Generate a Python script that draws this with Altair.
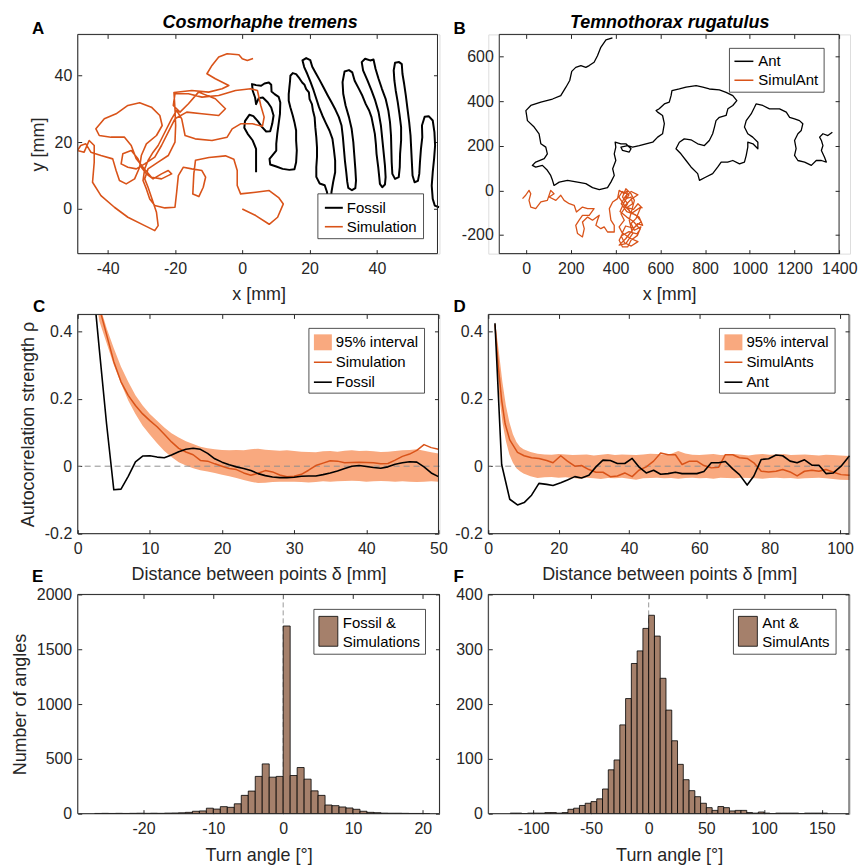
import altair as alt
import pandas as pd

FONT = "Liberation Sans"
AX = "#262626"
ORANGE = "#D95319"
BAND = "#F9A97F"
BROWN = "#A5806B"

# ---------------- Panel A: Cosmorhaphe tremens trajectories (mm) ----------------
fossil_xy = [
    (4.1, 11.0), (4.1, 14.5), (4.1, 18.0), (3.1, 20.5), (1.6, 22.5), (0.6, 24.3), (0.8, 26.3), (2.1, 28.2),
    (3.3, 27.8), (4.6, 26.3), (5.9, 24.5), (7.1, 23.2), (8.3, 23.3), (8.9, 25.5), (9.3, 28.0), (8.6, 30.4),
    (7.6, 31.9), (6.1, 33.4), (4.9, 33.2), (4.1, 31.4), (3.8, 33.4), (3.1, 35.4), (2.9, 37.4), (4.1, 37.1),
    (5.6, 36.9), (6.6, 37.6), (7.9, 37.9), (8.6, 37.2), (8.7, 35.2), (9.6, 34.4), (10.8, 33.6), (11.3, 31.9),
    (11.2, 28.5), (10.8, 25.5), (10.4, 22.5), (10.1, 19.5), (10.1, 17.5), (8.9, 16.0), (8.1, 15.0), (8.3, 13.3),
    (10.1, 12.7), (12.0, 12.0), (14.0, 11.7), (15.5, 11.9), (16.0, 14.0),
    (16.2, 17.5), (16.0, 20.5), (16.0, 23.5), (15.5, 26.0), (15.0, 28.0), (14.3, 30.4), (13.8, 32.4),
    (13.8, 34.4), (14.0, 36.4), (14.2, 38.4), (14.3, 39.9), (15.0, 40.7), (16.0, 40.4),
    (17.0, 39.1), (17.8, 37.9), (18.5, 37.2), (19.0, 35.9), (19.8, 34.9), (20.0, 32.9), (20.7, 31.4),
    (21.0, 29.5), (21.5, 27.5), (21.7, 24.5), (22.0, 21.5), (22.2, 18.5), (22.2, 15.5), (22.0, 12.5),
    (22.0, 9.6), (23.0, 7.6), (24.5, 7.1), (25.2, 5.0), (25.3, 2.0), (25.8, 0.5), (26.4, 2.0), (26.5, 5.0),
    (27.0, 8.0), (27.6, 11.0), (27.6, 14.5), (27.2, 18.0), (26.8, 21.0), (25.9, 23.5), (24.8, 25.8),
    (23.8, 28.0), (22.8, 30.5), (22.0, 33.0), (21.2, 35.5), (20.3, 38.0), (19.3, 40.5), (18.4, 42.5),
    (17.9, 44.5), (19.0, 45.2), (20.2, 44.6),
    (20.8, 42.6), (21.9, 40.6), (23.0, 38.6), (24.2, 36.3), (25.4, 34.0), (26.6, 31.8), (27.7, 29.7),
    (28.7, 27.5), (29.5, 25.0), (29.9, 21.5), (30.2, 18.0), (30.5, 14.5), (30.9, 11.0), (31.2, 8.1),
    (31.5, 6.3), (32.6, 5.6), (33.6, 6.2),
    (33.8, 8.5), (33.6, 12.0), (33.3, 16.0), (33.0, 20.0), (32.5, 24.0), (31.7, 27.5), (30.7, 31.0),
    (30.0, 34.5), (29.8, 38.0), (30.4, 41.2), (31.7, 41.6), (32.7, 40.9),
    (33.4, 38.4), (34.7, 35.9), (35.7, 33.9), (36.7, 31.4), (37.7, 29.5), (38.4, 27.5), (38.9, 25.0),
    (39.4, 22.5), (39.7, 19.5), (39.9, 16.5), (40.4, 12.5), (40.7, 9.6), (40.9, 7.5), (41.6, 6.5), (42.4, 7.3),
    (42.6, 9.5), (42.4, 13.0), (42.0, 17.0), (41.6, 21.0), (41.2, 25.0), (40.5, 29.0), (39.5, 32.5),
    (38.4, 35.5), (37.2, 38.5), (35.9, 41.5), (35.5, 44.0), (36.5, 45.0), (38.0, 44.5), (39.0, 44.8),
    (39.6, 42.0), (40.5, 39.0), (41.5, 36.0), (42.6, 33.0), (43.4, 29.5), (43.9, 26.0), (44.2, 22.0),
    (44.3, 18.0), (44.4, 14.0), (44.6, 10.5), (45.4, 9.0), (46.5, 9.5),
    (46.8, 12.5), (46.9, 16.5), (47.2, 20.5), (47.2, 24.5), (46.7, 28.5), (46.2, 32.0), (45.6, 35.5),
    (45.2, 38.5), (45.0, 41.5), (45.4, 43.8), (46.6, 44.0), (47.4, 43.4),
    (47.6, 40.5), (48.1, 37.5), (48.6, 34.0), (49.1, 30.0), (49.6, 26.0), (50.0, 22.0), (50.2, 18.0),
    (50.4, 14.0), (50.6, 10.0), (51.2, 8.0), (52.2, 8.4),
    (52.6, 10.5), (52.8, 14.0), (53.1, 18.0), (53.5, 21.5), (53.4, 25.0), (54.2, 27.6), (55.4, 27.8),
    (56.6, 26.5), (57.1, 23.0), (57.3, 19.0), (57.0, 15.0), (56.6, 11.0), (56.3, 7.0), (56.6, 3.0),
    (57.2, 1.0), (58.5, 0.5),
]
simulation_xy = [
    (0.0, 0.0), (4.0, -2.0), (8.0, -4.6), (10.5, -2.5), (12.2, 1.5), (10.8, 3.4), (8.0, 5.5), (4.0, 5.0),
    (-0.5, 4.5), (-1.5, 7.0), (-1.5, 11.5), (-2.5, 14.9), (-5.0, 15.9), (-9.9, 15.4), (-13.9, 14.6),
    (-14.4, 10.5), (-14.7, 4.5), (-12.9, 3.7), (-11.6, 6.5), (-10.9, 9.5), (-12.0, 11.5), (-15.0, 12.0),
    (-17.5, 12.5), (-19.0, 10.0), (-19.5, 5.0), (-20.0, 0.5), (-23.0, 0.3), (-26.0, 1.0), (-27.5, 3.0),
    (-28.5, 6.0), (-29.5, 8.5), (-29.0, 12.0), (-28.0, 14.5), (-26.5, 17.0), (-25.0, 19.0), (-23.5, 22.0),
    (-21.0, 27.0), (-19.5, 29.5), (-18.0, 27.0), (-17.0, 22.0), (-14.0, 21.0), (-9.0, 20.5), (-4.5, 21.5),
    (-3.0, 24.0), (-0.5, 25.5), (3.0, 25.5), (6.0, 24.8), (6.5, 27.5), (5.5, 31.0), (4.5, 35.5), (2.5, 36.0),
    (-2.0, 35.5), (-7.0, 34.0), (-12.0, 33.5), (-16.0, 34.5), (-20.0, 34.5), (-20.5, 31.0), (-18.5, 29.0),
    (-16.0, 31.5), (-13.0, 35.0), (-8.0, 33.0), (-5.0, 30.0), (-7.0, 28.0), (-12.0, 28.5), (-16.5, 29.0),
    (-20.0, 27.0), (-22.0, 23.0), (-24.0, 19.0), (-26.0, 15.5), (-29.0, 13.5), (-31.5, 12.0), (-34.0, 12.5),
    (-36.0, 13.5), (-35.5, 16.5), (-33.0, 17.5), (-31.0, 15.0), (-30.0, 12.5), (-28.5, 10.5), (-26.5, 9.0),
    (-24.0, 10.5), (-22.0, 11.5), (-21.0, 10.5), (-24.0, 9.0), (-27.0, 9.5), (-29.5, 12.5), (-31.5, 15.0),
    (-33.0, 19.0), (-35.0, 21.5), (-39.0, 21.5), (-42.5, 22.0), (-43.5, 24.0), (-41.0, 27.0), (-37.5, 28.5),
    (-34.0, 31.0), (-30.5, 31.8), (-27.0, 30.5), (-24.5, 28.0), (-23.8, 25.0), (-25.5, 22.0), (-28.5, 19.5),
    (-30.0, 16.0), (-30.5, 12.5), (-32.0, 9.0), (-34.5, 7.5), (-36.5, 8.5), (-37.5, 11.5), (-38.5, 15.0),
    (-42.0, 16.0), (-45.0, 17.0), (-46.5, 19.5), (-48.0, 19.0), (-49.0, 17.5), (-47.0, 17.0), (-45.5, 20.5),
    (-44.0, 19.0), (-44.0, 14.0), (-44.5, 8.0), (-42.0, 4.0), (-38.0, 0.5), (-34.0, -2.5), (-29.0, -5.0),
    (-26.0, -6.5), (-25.0, -5.0), (-25.5, -1.0), (-27.0, 3.5), (-28.0, 6.5), (-29.0, 9.0), (-28.0, 12.0),
    (-25.0, 14.0), (-22.0, 16.0), (-20.0, 20.0), (-19.8, 25.0), (-20.0, 30.0), (-20.3, 34.9), (-15.0, 35.5),
    (-10.0, 35.0), (-6.0, 36.0), (-4.0, 37.0), (-8.0, 39.0), (-10.5, 40.5), (-9.0, 43.0), (-7.0, 45.5),
    (-4.5, 46.5), (-1.0, 46.2), (0.0, 45.0), (1.5, 44.5), (3.2, 45.1),
]

# ---------------- Panel B: Temnothorax rugatulus trajectories (mm) ----------------
ant_x = [386, 357, 334, 319, 304, 282, 267, 245, 222, 204, 195, 178, 155, 118, 66, 21, -1, 6, 36, 58,
         66, 88, 95, 81, 43, 28, 43, 73, 95, 110, 118, 125, 148, 185, 230, 267, 297, 327, 364, 379,
         394, 387, 401, 394, 401, 398, 424, 446, 469, 461, 431, 424, 454, 476, 506, 536, 566, 588, 610, 618,
         610, 588, 581, 595, 618, 640, 648, 652, 685, 715, 760, 790, 819, 864, 894, 924, 942, 924, 902, 894,
         864, 849, 842, 834, 819, 797, 767, 737, 707, 685, 670, 692, 715, 737, 767, 775, 804, 834, 857, 872,
         901, 924, 954, 976, 984, 991, 991, 1014, 1036, 1036, 1013, 991, 976, 984, 1006, 1021, 1028, 1058, 1088, 1133,
         1163, 1178, 1200, 1222, 1237, 1230, 1215, 1200, 1207, 1200, 1215, 1245, 1275, 1297, 1320, 1342, 1334, 1320, 1327, 1320,
         1312, 1327, 1349, 1369]
ant_y = [684, 675, 642, 604, 575, 560, 552, 560, 552, 534, 493, 463, 425, 410, 396, 381, 358, 313, 284, 254,
         209, 194, 164, 142, 127, 112, 104, 112, 90, 67, 45, 22, 37, 45, 37, 30, 12, 3, 12, 37,
         67, 97, 134, 164, 194, 216, 209, 209, 187, 172, 179, 194, 201, 194, 201, 209, 216, 239, 254, 299,
         336, 351, 358, 366, 388, 396, 425, 448, 455, 463, 470, 463, 455, 451, 440, 425, 403, 381, 366, 336,
         328, 313, 284, 254, 224, 201, 209, 227, 231, 216, 187, 164, 134, 105, 75, 45, 60, 75, 105, 127,
         127, 134, 119, 127, 157, 194, 216, 209, 187, 216, 239, 254, 284, 313, 343, 373, 388, 381, 366, 366,
         351, 328, 321, 313, 299, 269, 254, 224, 187, 157, 134, 127, 112, 134, 134, 127, 149, 179, 201, 224,
         239, 254, 246, 261]
simulant_x = [-16, -2, 13, 21, 13, 21, 43, 66, 95, 110, 125, 103, 133, 155, 170, 193, 215, 225, 252, 275,
              304, 282, 252, 237, 222, 230, 252, 260, 252, 275, 297, 327, 319, 312, 334, 349, 364, 394, 394, 379,
              372, 387, 409, 416, 439, 454, 446, 469, 476, 454, 469, 491, 513, 491, 469, 484, 513, 498, 469, 454,
              431, 416, 431, 416, 439, 424, 454, 431, 446, 469, 484, 461, 476, 446, 416, 446, 498, 521,
              505, 470, 440, 470, 500, 470, 445, 425, 450, 490, 515, 480, 445, 430, 465, 500, 470, 440, 425, 460,
              495, 510, 480, 450, 420, 440, 460, 430, 415, 445, 480, 500, 520]
simulant_y = [-37, -22, 0, -15, -45, -75, -82, -52, -45, 0, -15, -30, -45, -22, -45, -60, -67, -97, -75, -82,
              -82, -112, -112, -134, -157, -194, -209, -172, -142, -120, -134, -112, -134, -157, -172, -164, -187, -187, -157, -134,
              -82, -52, -37, 0, -15, 0, -37, -30, -60, -75, -105, -90, -75, -127, -149, -179, -164, -202, -224, -254,
              -254, -224, -194, -164, -134, -105, -60, -30, 7, -15, -45, -134, -194, -239, -246, -216, -149, -157,
              -120, -100, -70, -40, -20, -5, -25, -60, -95, -110, -140, -170, -160, -190, -215, -230, -250, -235, -205, -185,
              -195, -175, -140, -120, -95, -50, -20, -5, -30, -75, -85, -60, -80]

# ---------------- Panel C: autocorrelation, fossil ----------------
c_dist = [2, 3, 4, 5, 6, 7, 8, 9, 10, 11, 12, 13, 14, 15, 16, 17, 18, 19, 20, 21, 22, 23, 24, 25, 26,
          27, 28, 29, 30, 31, 32, 33, 34, 35, 36, 37, 38, 39, 40, 41, 42, 43, 44, 45, 46, 47, 48, 49, 50]
c_fossil = [0.57, 0.345, 0.125, -0.070, -0.068, -0.030, 0.013, 0.030, 0.031, 0.027, 0.025, 0.033, 0.043,
            0.050, 0.053, 0.050, 0.038, 0.022, 0.012, 0.004, -0.002, -0.007, -0.013, -0.022, -0.028, -0.032,
            -0.034, -0.034, -0.033, -0.030, -0.029, -0.029, -0.025, -0.020, -0.014, -0.007, 0.000, 0.002,
            -0.001, -0.004, -0.006, -0.002, 0.006, 0.010, 0.013, 0.012, -0.002, -0.020, -0.031]
c_sim = [0.60, 0.47, 0.39, 0.31, 0.25, 0.21, 0.18, 0.155, 0.135, 0.117, 0.095, 0.072, 0.053, 0.042, 0.034,
         0.017, 0.015, 0.007, 0.000, -0.007, -0.010, -0.020, -0.027, -0.021, -0.013, -0.017, -0.026, -0.031,
         -0.030, -0.024, -0.012, 0.002, 0.009, 0.016, 0.015, 0.010, 0.011, 0.012, 0.011, 0.010, 0.007, 0.008,
         0.018, 0.029, 0.036, 0.047, 0.064, 0.055, 0.050]
c_hi = [0.62, 0.48, 0.41, 0.35, 0.295, 0.25, 0.21, 0.18, 0.155, 0.135, 0.115, 0.098, 0.085, 0.074, 0.066,
        0.058, 0.053, 0.050, 0.048, 0.047, 0.048, 0.047, 0.050, 0.052, 0.049, 0.047, 0.046, 0.047, 0.045,
        0.043, 0.042, 0.041, 0.044, 0.045, 0.043, 0.046, 0.047, 0.045, 0.046, 0.044, 0.042, 0.043, 0.045,
        0.047, 0.048, 0.050, 0.046, 0.041, 0.038]
c_lo = [0.56, 0.43, 0.365, 0.30, 0.245, 0.195, 0.155, 0.12, 0.093, 0.068, 0.045, 0.027, 0.012, 0.002,
        -0.006, -0.012, -0.016, -0.020, -0.025, -0.030, -0.035, -0.041, -0.046, -0.050, -0.049, -0.047,
        -0.046, -0.046, -0.046, -0.047, -0.048, -0.047, -0.045, -0.046, -0.045, -0.044, -0.043, -0.044,
        -0.046, -0.045, -0.044, -0.045, -0.046, -0.045, -0.046, -0.047, -0.046, -0.045, -0.046]

# ---------------- Panel D: autocorrelation, ant ----------------
d_ant_dist = [1.9, 3.8, 6.1, 8.3, 10.2, 12.3, 14.4, 16.6, 18.4, 20.6, 22.5, 24.6, 26.5, 28.6, 30.6, 32.6,
              34.7, 36.7, 38.8, 40.9, 42.8, 44.9, 47.0, 49.0, 51.1, 53.2, 55.1, 57.2, 59.3, 61.3, 63.4, 65.5,
              67.4, 69.5, 71.4, 73.6, 75.5, 77.6, 79.7, 81.8, 83.7, 85.8, 87.8, 89.9, 92.0, 94.0, 96.0, 98.1,
              100.3, 102.7]
d_ant = [0.424, 0.005, -0.098, -0.115, -0.108, -0.086, -0.051, -0.054, -0.057, -0.049, -0.041, -0.031,
         -0.035, -0.027, -0.002, 0.018, 0.017, 0.008, 0.008, 0.023, -0.002, -0.020, -0.012, -0.024, -0.022,
         -0.018, -0.022, -0.022, -0.022, -0.016, 0.010, 0.010, 0.014, -0.008, -0.025, -0.056, -0.029, 0.020,
         0.022, 0.033, 0.031, 0.015, 0.010, 0.019, 0.003, 0.003, -0.022, -0.020, 0.000, 0.031]
d_sim_dist = [1.9, 2.8, 3.8, 4.8, 6.1, 8.3, 10.2, 12.3, 14.4, 16.6, 18.4, 20.6, 22.5, 24.6, 26.5, 28.6,
              30.6, 32.6, 34.7, 36.7, 38.8, 40.9, 42.8, 44.9, 47.0, 49.0, 51.1, 53.2, 55.1, 57.2, 59.3, 61.3,
              63.4, 65.5, 67.4, 69.5, 71.4, 73.6, 75.5, 77.6, 79.7, 81.8, 83.7, 85.8, 87.8, 89.9, 92.0, 94.0,
              96.0, 98.1, 100.3, 102.7]
d_sim = [0.42, 0.30, 0.196, 0.125, 0.078, 0.041, 0.031, 0.025, 0.023, 0.017, 0.010, 0.031, 0.015, 0.000,
         0.002, -0.010, -0.018, -0.018, -0.031, -0.029, -0.020, -0.031, -0.012, -0.002, 0.015, 0.039, 0.034,
         0.034, 0.005, 0.015, 0.015, 0.002, -0.005, -0.003, 0.034, 0.034, 0.025, 0.023, 0.010, -0.015,
         -0.017, -0.015, -0.010, -0.017, -0.029, -0.015, -0.012, -0.015, -0.010, -0.018, -0.025, -0.027]
d_band_dist = [1.9, 3, 4, 5, 6, 7, 8, 9, 10, 12, 14, 16, 18, 20, 22, 24, 26, 28, 30, 32, 34, 36, 38, 40,
               42, 44, 46, 48, 50, 52, 54, 56, 58, 60, 62, 64, 66, 68, 70, 72, 74, 76, 78, 80, 82, 84, 86,
               88, 90, 92, 94, 96, 98, 100, 102.7]
d_hi = [0.43, 0.34, 0.25, 0.18, 0.13, 0.095, 0.072, 0.058, 0.050, 0.042, 0.037, 0.035, 0.034, 0.036,
        0.035, 0.033, 0.034, 0.035, 0.032, 0.034, 0.036, 0.033, 0.035, 0.034, 0.033, 0.035, 0.037, 0.036,
        0.034, 0.037, 0.045, 0.038, 0.034, 0.033, 0.035, 0.036, 0.033, 0.034, 0.036, 0.034, 0.032, 0.035,
        0.036, 0.034, 0.035, 0.036, 0.033, 0.034, 0.035, 0.033, 0.032, 0.034, 0.033, 0.032, 0.030]
d_lo = [0.41, 0.22, 0.13, 0.075, 0.035, 0.010, -0.006, -0.015, -0.022, -0.030, -0.035, -0.033, -0.032,
        -0.034, -0.033, -0.035, -0.037, -0.034, -0.036, -0.038, -0.035, -0.036, -0.034, -0.037, -0.040,
        -0.036, -0.035, -0.034, -0.036, -0.035, -0.037, -0.035, -0.034, -0.036, -0.035, -0.037, -0.034,
        -0.035, -0.036, -0.034, -0.035, -0.036, -0.037, -0.035, -0.034, -0.036, -0.035, -0.037, -0.036,
        -0.035, -0.034, -0.036, -0.038, -0.040, -0.041]

# ---------------- Panel E / F: turn angle histograms ----------------
e_bin_start = [-27, -26, -25, -24, -23, -22, -21, -20, -19, -18, -17, -16, -15, -14, -13, -12, -11, -10,
               -9, -8, -7, -6, -5, -4, -3, -2, -1, 0, 1, 2, 3, 4, 5, 6, 7, 8, 9, 10, 11, 12, 13, 14, 15,
               16, 17, 18, 19, 20]
e_count = [2, 3, 2, 3, 2, 3, 4, 3, 4, 3, 5, 6, 8, 12, 22, 25, 50, 42, 64, 58, 90, 167, 206, 340, 454, 333,
           340, 1712, 348, 421, 315, 208, 167, 79, 73, 61, 52, 40, 22, 12, 9, 5, 4, 4, 3, 2, 2, 1]
e_bin_width = 1
f_bin_start = [-120, -115, -110, -105, -100, -95, -90, -85, -80, -75, -70, -65, -60, -55, -50, -45, -40,
               -35, -30, -25, -20, -15, -10, -5, 0, 5, 10, 15, 20, 25, 30, 35, 40, 45, 50, 55, 60, 65, 70,
               75, 80, 85, 90, 95, 100, 105, 110, 115, 120, 125, 130, 135, 140, 145, 150]
f_count = [1, 1, 0, 1, 1, 1, 2, 2, 1, 2, 8, 10, 15, 19, 22, 27, 45, 80, 98, 162, 210, 274, 297, 338, 362,
           324, 247, 189, 133, 90, 62, 42, 31, 19, 11, 6, 13, 11, 5, 6, 6, 2, 1, 3, 1, 0, 1, 1, 1, 1, 0,
           1, 1, 1, 1]
f_bin_width = 5

# ---------------- helpers ----------------
ONE = pd.DataFrame({"k": [0]})
ZERO = pd.DataFrame({"z": [0]})
LABEL_EXPR = "(datum.value < 0 ? '-' : '') + format(abs(datum.value), '')"


def label_axis(orient, values, title, tpad, offset=0):
    kw = dict(orient=orient, values=values, ticks=False, tickSize=0, domain=False, grid=False,
              labelFont=FONT, labelFontSize=16, labelColor=AX, labelFlush=False, labelOverlap=False,
              labelExpr=LABEL_EXPR, labelPadding=7 if orient == "bottom" else 6, offset=offset,
              titleFont=FONT, titleFontSize=18, titleFontWeight="normal", titleColor=AX, titlePadding=tpad)
    kw["title"] = title if title else None
    return alt.Axis(**kw)


def tick_axis(orient, values, offset):
    return alt.Axis(orient=orient, values=values, offset=offset, labels=False, ticks=True, tickSize=4,
                    tickColor=AX, tickWidth=1, domain=False, grid=False, title=None)


def frame(xs, ys, xt, yt, W, H, xtitle, ytitle, xdom, ydom, left=0, right=None, xpad=8):
    """MATLAB-style axes: labels outside, ticks inside on all four sides, plus the box
    spanning [left, right] horizontally inside a cell of width W."""
    if right is None:
        right = W
    anchor = pd.DataFrame({"x": [xdom[0]], "y": [ydom[0]]})
    base = alt.Chart(anchor).mark_point(opacity=0)
    lab = base.encode(x=alt.X("x:Q", scale=xs, axis=label_axis("bottom", xt, xtitle, xpad)),
                      y=alt.Y("y:Q", scale=ys, axis=label_axis("left", yt, ytitle, 7, -left)))
    t1 = base.encode(x=alt.X("x:Q", scale=xs, axis=tick_axis("top", xt, -H)),
                     y=alt.Y("y:Q", scale=ys, axis=tick_axis("right", yt, -(W - left))))
    t2 = base.encode(x=alt.X("x:Q", scale=xs, axis=tick_axis("bottom", xt, -H)),
                     y=alt.Y("y:Q", scale=ys, axis=tick_axis("left", yt, -right)))
    box = alt.Chart(ONE).mark_rect(fill="white", fillOpacity=0, stroke=AX, strokeWidth=1).encode(
        x=alt.value(left), x2=alt.value(right), y=alt.value(0), y2=alt.value(H))
    return [lab, t1, t2, box]


def lrect(x0, y0, x1, y1, fill, stroke=AX, sw=0.8):
    return alt.Chart(ONE).mark_rect(fill=fill, stroke=stroke, strokeWidth=sw).encode(
        x=alt.value(x0), x2=alt.value(x1), y=alt.value(y0), y2=alt.value(y1))


def lline(x0, x1, y, color, sw):
    return alt.Chart(ONE).mark_rule(color=color, strokeWidth=sw).encode(
        x=alt.value(x0), x2=alt.value(x1), y=alt.value(y))


def ltext(x, y, s, size=15, baseline="middle", weight="normal"):
    return alt.Chart(ONE).mark_text(align="left", baseline=baseline, font=FONT, fontSize=size,
                                    fontWeight=weight, color="black").encode(
        x=alt.value(x), y=alt.value(y), text=alt.value(s))


def letter(x, y, s):
    return ltext(x, y, s, size=17, baseline="alphabetic", weight="bold")


def path_df(xs_, ys_):
    return pd.DataFrame({"x": xs_, "y": ys_, "i": list(range(len(xs_)))})


def path_layer(df, xs, ys, color, sw):
    return alt.Chart(df).mark_line(color=color, strokeWidth=sw, clip=True, strokeJoin="round").encode(
        x=alt.X("x:Q", scale=xs, axis=None), y=alt.Y("y:Q", scale=ys, axis=None), order="i:Q")


def sc(dom):
    return alt.Scale(domain=dom, nice=False, zero=False)


def ttext(x, y, s):
    return alt.Chart(ONE).mark_text(align="center", baseline="alphabetic", font=FONT, fontSize=18,
                                    fontWeight="bold", fontStyle="italic", color="black").encode(
        x=alt.value(x), y=alt.value(y), text=alt.value(s))


CW, CH = 363, 220

# ---------------- Panel A ----------------
xdA, ydA = [-48.9, 58.6], [-13.4, 52.3]
xsA, ysA = sc(xdA), sc(ydA)
dfF = path_df([p[0] for p in fossil_xy], [p[1] for p in fossil_xy])
dfS = path_df([p[0] for p in simulation_xy], [p[1] for p in simulation_xy])
panelA = alt.layer(
    path_layer(dfF, xsA, ysA, "black", 2.0),
    path_layer(dfS, xsA, ysA, ORANGE, 1.6),
    *frame(xsA, ysA, [-40, -20, 0, 20, 40], [0, 20, 40], CW, CH, "x [mm]", "y [mm]", xdA, ydA, 0, 361, 9),
    lrect(241, 160, 347, 205, "white"),
    lline(248, 266, 174, "black", 2.0),
    lline(248, 266, 193, ORANGE, 1.6),
    ltext(270, 174, "Fossil"),
    ltext(270, 193, "Simulation"),
    letter(-46, 0, "A"),
    ttext(183, -6, "Cosmorhaphe tremens"),
).resolve_axis(x="independent", y="independent").properties(width=CW, height=CH)

# ---------------- Panel B (narrower box inside the cell, equal aspect) ----------------
xdB, ydB = [-169.0, 1448.0], [-284.0, 700.0]
xsB, ysB = sc(xdB), sc(ydB)
panelB = alt.layer(
    path_layer(path_df(ant_x, ant_y), xsB, ysB, "black", 1.3),
    path_layer(path_df(simulant_x, simulant_y), xsB, ysB, ORANGE, 1.3),
    *frame(xsB, ysB, [0, 200, 400, 600, 800, 1000, 1200, 1400], [-200, 0, 200, 400, 600], CW, CH,
           "x [mm]", None, xdB, ydB, 11, 352, 9),
    lrect(242, 14, 337, 58, "white"),
    lline(247, 266, 27, "black", 1.5),
    lline(247, 266, 46, ORANGE, 1.5),
    ltext(271, 27, "Ant"),
    ltext(271, 46, "SimulAnt"),
    letter(-35, 0, "B"),
    ttext(182, -6, "Temnothorax rugatulus"),
).resolve_axis(x="independent", y="independent").properties(width=CW, height=CH)


# ---------------- Panels C / D ----------------
def acf_panel(xdom, xt, band_x, hi, lo, sim_x, sim, obs_x, obs, sim_name, obs_name, ytitle, let, let_x, right):
    ydom = [-0.2, 0.45]
    xs, ys = sc(xdom), sc(ydom)
    band = pd.DataFrame({"x": band_x, "hi": hi, "lo": lo})
    return alt.layer(
        alt.Chart(band).mark_area(color=BAND, opacity=1, clip=True).encode(
            x=alt.X("x:Q", scale=xs, axis=None), y=alt.Y("hi:Q", scale=ys, axis=None), y2="lo:Q"),
        alt.Chart(ZERO).mark_rule(color="#8f8f8f", strokeDash=[6, 4], strokeWidth=1).encode(
            y=alt.Y("z:Q", scale=ys, axis=None)),
        path_layer(path_df(sim_x, sim), xs, ys, ORANGE, 1.5),
        path_layer(path_df(obs_x, obs), xs, ys, "black", 1.6),
        *frame(xs, ys, xt, [-0.2, 0, 0.2, 0.4], CW, CH, "Distance between points \u03b4 [mm]", ytitle,
               xdom, ydom, 0, right, 9),
        lrect(232, 14, 348, 79, "white"),
        lrect(237, 20, 255, 36, BAND, stroke=BAND, sw=0),
        lline(237, 255, 48, ORANGE, 1.5),
        lline(237, 255, 68, "black", 1.6),
        ltext(259, 28, "95% interval"),
        ltext(259, 48, sim_name),
        ltext(259, 68, obs_name),
        letter(let_x, -2, let),
    ).resolve_axis(x="independent", y="independent").properties(width=CW, height=CH)


panelC = acf_panel([0, 50.14], [0, 10, 20, 30, 40, 50], c_dist, c_hi, c_lo, c_dist, c_sim,
                   c_dist, c_fossil, "Simulation", "Fossil", "Autocorrelation strength \u03c1", "C", -45, 362)
panelD = acf_panel([0, 102.84], [0, 20, 40, 60, 80, 100], d_band_dist, d_hi, d_lo, d_sim_dist,
                   d_sim, d_ant_dist, d_ant, "SimulAnts", "Ant", None, "D", -35, 362)


# ---------------- Panels E / F ----------------
def hist_panel(xdom, ydom, xt, yt, starts, counts, width, l1, l2, ytitle, let, let_x, lg_x, right):
    xs, ys = sc(xdom), sc(ydom)
    df = pd.DataFrame({"lo": starts, "n": counts})
    df["hi"] = df["lo"] + width
    df["z"] = 0
    return alt.layer(
        alt.Chart(ZERO).mark_rule(color="#9a9a9a", strokeDash=[5, 3], strokeWidth=1).encode(
            x=alt.X("z:Q", scale=xs, axis=None)),
        alt.Chart(df).mark_rect(fill=BROWN, stroke="black", strokeWidth=0.8, clip=True).encode(
            x=alt.X("lo:Q", scale=xs, axis=None), x2="hi:Q",
            y=alt.Y("n:Q", scale=ys, axis=None), y2="z:Q"),
        *frame(xs, ys, xt, yt, CW, CH, "Turn angle [\u00b0]", ytitle, xdom, ydom, 0, right, 10),
        lrect(lg_x, 15, 349, 60, "white"),
        lrect(lg_x + 5, 22, lg_x + 24, 52, BROWN, stroke="black", sw=0.8),
        ltext(lg_x + 29, 29, l1),
        ltext(lg_x + 29, 48, l2),
        letter(let_x, -12, let),
    ).resolve_axis(x="independent", y="independent").properties(width=CW, height=CH)


panelE = hist_panel([-29.42, 22.38], [0, 2000], [-20, -10, 0, 10, 20],
                    [0, 500, 1000, 1500, 2000], e_bin_start, e_count, e_bin_width,
                    "Fossil &", "Simulations", "Number of angles", "E", -46, 237, 363)
panelF = hist_panel([-139, 174.5], [0, 400], [-100, -50, 0, 50, 100, 150],
                    [0, 100, 200, 300, 400], f_bin_start, f_count, f_bin_width,
                    "Ant &", "SimulAnts", None, "F", -35, 246, 362)

chart = alt.concat(panelA, panelB, panelC, panelD, panelE, panelF, columns=2,
                   spacing={"row": 61, "column": 49}, bounds="flush").properties(
    padding={"left": 10, "top": 12, "right": 0, "bottom": 0}
).configure_view(strokeWidth=0).configure(font=FONT, background="white")

chart.save("out.html", embed_options={"renderer": "svg", "actions": False})
